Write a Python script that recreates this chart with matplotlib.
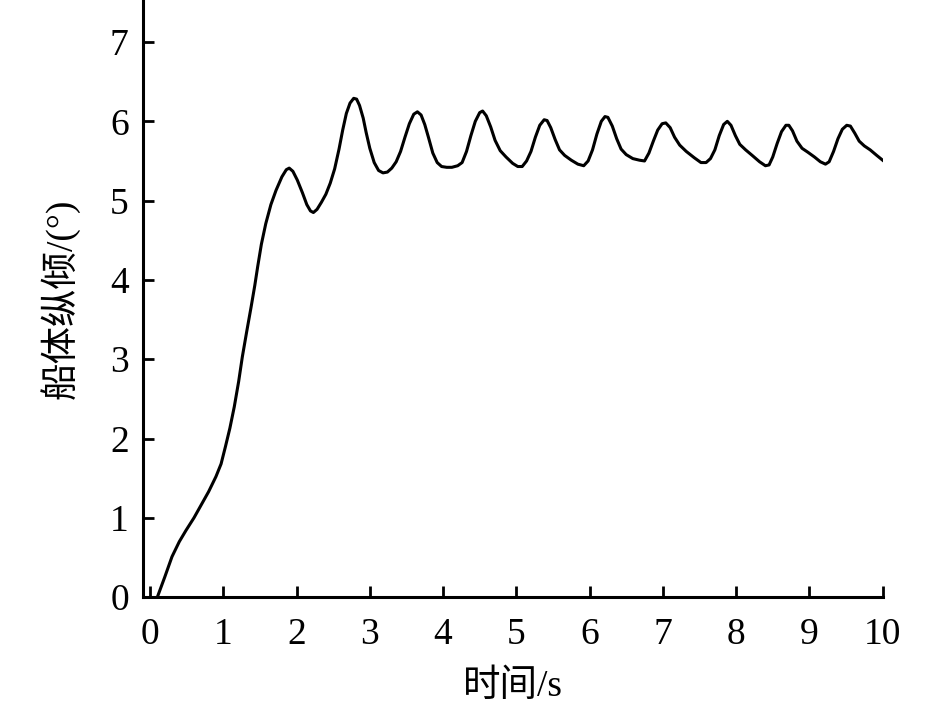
import matplotlib
matplotlib.use("Agg")
import matplotlib.pyplot as plt

plt.rcParams['font.family'] = ['Liberation Serif', 'Noto Sans CJK SC']

# time (s) and pitch angle (deg)
t = [0.10, 0.20, 0.30, 0.40, 0.49, 0.60, 0.71, 0.80, 0.90, 0.97, 1.03, 1.09,
     1.15, 1.21, 1.26, 1.32, 1.38, 1.43, 1.47, 1.52, 1.58, 1.65, 1.72, 1.80,
     1.86, 1.90, 1.95, 2.01, 2.08, 2.14, 2.19, 2.23, 2.28, 2.34, 2.40, 2.46,
     2.52, 2.58, 2.63, 2.68, 2.73, 2.78, 2.82, 2.86, 2.91, 2.95, 3.00, 3.06,
     3.12, 3.18, 3.24, 3.30, 3.36, 3.42, 3.48, 3.54, 3.60, 3.65, 3.70, 3.75,
     3.80, 3.86, 3.92, 3.98, 4.05, 4.12, 4.20, 4.26, 4.32, 4.38, 4.44, 4.50,
     4.54, 4.59, 4.65, 4.71, 4.78, 4.86, 4.95, 5.02, 5.08, 5.14, 5.20, 5.26,
     5.32, 5.38, 5.42, 5.47, 5.53, 5.59, 5.66, 5.75, 5.84, 5.92, 5.98, 6.04,
     6.10, 6.16, 6.21, 6.25, 6.31, 6.37, 6.43, 6.50, 6.59, 6.68, 6.75, 6.81,
     6.87, 6.93, 6.99, 7.04, 7.10, 7.16, 7.23, 7.32, 7.43, 7.52, 7.59, 7.65,
     7.71, 7.77, 7.83, 7.88, 7.93, 7.99, 8.05, 8.13, 8.22, 8.32, 8.40, 8.45,
     8.50, 8.56, 8.62, 8.68, 8.72, 8.77, 8.83, 8.90, 8.98, 9.07, 9.15, 9.22,
     9.27, 9.33, 9.39, 9.45, 9.51, 9.56, 9.62, 9.68, 9.75, 9.83, 9.92, 10.0]
pitch = [0.00, 0.25, 0.51, 0.70, 0.84, 1.00, 1.18, 1.33, 1.52, 1.68, 1.90, 2.13,
         2.40, 2.72, 3.03, 3.35, 3.66, 3.93, 4.17, 4.45, 4.71, 4.95, 5.13, 5.30,
         5.39, 5.41, 5.37, 5.26, 5.10, 4.95, 4.87, 4.85, 4.89, 4.98, 5.08, 5.22,
         5.40, 5.65, 5.89, 6.10, 6.23, 6.29, 6.28, 6.20, 6.04, 5.86, 5.66, 5.48,
         5.38, 5.35, 5.36, 5.41, 5.49, 5.62, 5.80, 5.97, 6.09, 6.12, 6.08, 5.96,
         5.80, 5.60, 5.48, 5.43, 5.42, 5.42, 5.44, 5.48, 5.62, 5.82, 6.00, 6.11,
         6.13, 6.07, 5.93, 5.76, 5.63, 5.55, 5.47, 5.43, 5.43, 5.50, 5.62, 5.80,
         5.95, 6.02, 6.01, 5.92, 5.77, 5.64, 5.57, 5.51, 5.46, 5.44, 5.50, 5.64,
         5.84, 6.00, 6.06, 6.05, 5.94, 5.78, 5.65, 5.58, 5.53, 5.51, 5.50, 5.60,
         5.75, 5.89, 5.97, 5.98, 5.92, 5.80, 5.70, 5.62, 5.54, 5.48, 5.48, 5.53,
         5.64, 5.82, 5.96, 6.00, 5.95, 5.82, 5.71, 5.64, 5.57, 5.49, 5.44, 5.45,
         5.55, 5.72, 5.87, 5.95, 5.95, 5.88, 5.75, 5.66, 5.61, 5.55, 5.49, 5.46,
         5.49, 5.62, 5.78, 5.90, 5.95, 5.94, 5.85, 5.75, 5.69, 5.64, 5.57, 5.51]
xticks = list(range(0, 11))
yticks = list(range(0, 8))

fig = plt.figure(figsize=(9.45, 7.1), dpi=100)
ax = fig.add_axes([0.151, 0.159, 0.783, 0.841])

ax.plot(t, pitch, color='black', lw=2.2, solid_joinstyle='round')

ax.set_xlim(-0.1, 10.0)
ax.set_ylim(0, 7.53)
ax.set_xticks(xticks)
ax.set_yticks(yticks)

for side in ['top', 'right']:
    ax.spines[side].set_visible(False)
for side in ['left', 'bottom']:
    ax.spines[side].set_linewidth(2.2)

ax.tick_params(direction='in', length=8, width=2, labelsize=27)
ax.tick_params(axis='x', pad=15)
ax.tick_params(axis='y', pad=10)

ax.set_xlabel('时间/s', fontsize=27, labelpad=12)
ax.set_ylabel('船体纵倾/(°)', fontsize=27, labelpad=22)

fig.savefig('out.png', dpi=100)
